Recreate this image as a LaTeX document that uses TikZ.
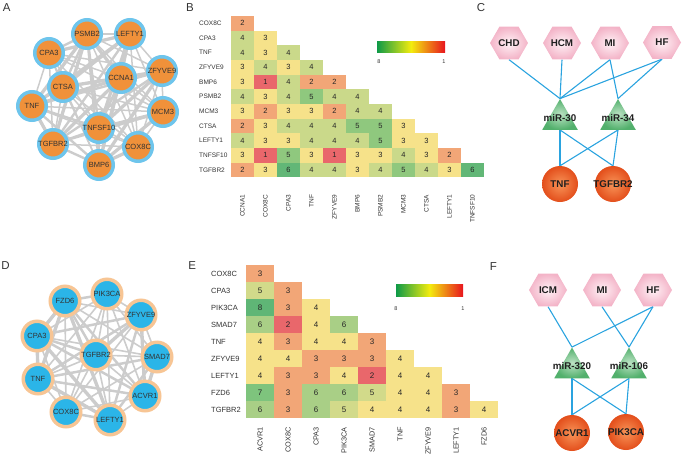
\documentclass[tikz,border=0pt]{standalone}
\usepackage{fontspec}
\setmainfont{Liberation Sans}
\usetikzlibrary{shapes.geometric}
\pgfdeclarelayer{bg}
\pgfsetlayers{bg,main}
\definecolor{txt}{HTML}{333333}
\definecolor{ringA}{HTML}{6EC5EC}
\definecolor{fillA}{HTML}{F0913A}
\definecolor{ringD}{HTML}{F7C594}
\definecolor{fillD}{HTML}{2BB5E8}
\definecolor{edgegray}{HTML}{CCCCCC}
\definecolor{hb1}{HTML}{E9676B}
\definecolor{hb2}{HTML}{F2A677}
\definecolor{hb3}{HTML}{F6E28A}
\definecolor{hb4}{HTML}{CAD98A}
\definecolor{hb5}{HTML}{8FC87E}
\definecolor{hb6}{HTML}{62B777}
\definecolor{he2}{HTML}{E9676B}
\definecolor{he3}{HTML}{F2A677}
\definecolor{he4}{HTML}{F6E28A}
\definecolor{he5}{HTML}{D2DA8A}
\definecolor{he6}{HTML}{A9CF86}
\definecolor{he7}{HTML}{7EC47D}
\definecolor{he8}{HTML}{5FB676}
\definecolor{cbg}{HTML}{0E9A48}
\definecolor{cby}{HTML}{F3EC0E}
\definecolor{cbr}{HTML}{E8141E}
\definecolor{pinkin}{HTML}{FFF2F6}
\definecolor{pinkout}{HTML}{F3B3C7}
\definecolor{grin}{HTML}{BDE3C5}
\definecolor{grout}{HTML}{52B06C}
\definecolor{orin}{HTML}{F89458}
\definecolor{orout}{HTML}{E34E1B}
\definecolor{bluel}{HTML}{2AA3DF}
\tikzset{
  panellbl/.style={font=\fontsize{11.5}{12}\selectfont, text=txt, inner sep=0pt},
  alabel/.style={font=\fontsize{7.5}{8}\selectfont, text=txt, inner sep=0pt},
  anode/.style={circle, draw=ringA, line width=3.5pt, fill=fillA, minimum size=28.5pt, inner sep=0pt, label={[alabel]center:#1}},
  dnode/.style={circle, draw=ringD, line width=3.5pt, fill=fillD, minimum size=29.5pt, inner sep=0pt, label={[alabel]center:#1}},
  cellB/.style={minimum width=23pt, minimum height=14.65pt, inner sep=0pt, font=\fontsize{7.5}{8}\selectfont, text=black!85},
  cellE/.style={minimum width=28pt, minimum height=17pt, inner sep=0pt, font=\fontsize{8}{9}\selectfont, text=black!85},
  rowB/.style={anchor=west, inner sep=0pt, font=\fontsize{6.5}{7}\selectfont, text=txt},
  colB/.style={rotate=90, anchor=east, inner sep=0pt, font=\fontsize{6.5}{7}\selectfont, text=txt},
  rowE/.style={anchor=west, inner sep=0pt, font=\fontsize{7.5}{8}\selectfont, text=txt},
  colE/.style={rotate=90, anchor=east, inner sep=0pt, font=\fontsize{7.3}{8}\selectfont, text=txt},
  cbl/.style={inner sep=0pt, font=\fontsize{5.5}{6}\selectfont, text=txt},
  cbar/.style={left color=cbg, right color=cbr, middle color=cby},
  blabel/.style={font=\bfseries\fontsize{9.8}{10}\selectfont, text=black!88, inner sep=0pt},
  hexa/.style={regular polygon, regular polygon sides=6, minimum size=38pt, inner sep=0pt, inner color=pinkin, outer color=pinkout, label={[blabel]center:#1}},
  tri/.style={regular polygon, regular polygon sides=3, minimum size=41pt, inner sep=0pt, inner color=grin, outer color=grout, label={[blabel, yshift=2pt]center:#1}},
  balln/.style={circle, minimum size=36pt, inner sep=0pt, inner color=orin, outer color=orout, label={[blabel]center:#1}},
  bedge/.style={draw=bluel, line width=1.1pt},
  gedge/.style={draw=edgegray}
}
\begin{document}
\begin{tikzpicture}[x=1pt,y=-1pt]
\useasboundingbox (0,0) rectangle (685,456);
% panel letters
\node[panellbl] (lA) at (6.7,7.5) {A};
\node[panellbl] (lB) at (190,7.5) {B};
\node[panellbl] (lC) at (481,7.5) {C};
\node[panellbl] (lD) at (5.5,265.5) {D};
\node[panellbl] (lE) at (192.3,265.5) {E};
\node[panellbl] (lF) at (493.3,266.3) {F};

% ---------- Panel A ----------
\node[anode=PSMB2] (a1) at (87,34) {};
\node[anode=LEFTY1] (a2) at (130,34) {};
\node[anode=CPA3] (a3) at (49,53) {};
\node[anode=CCNA1] (a4) at (121,78) {};
\node[anode=ZFYVE9] (a5) at (162,71) {};
\node[anode=CTSA] (a6) at (63,87) {};
\node[anode=TNF] (a7) at (32,106) {};
\node[anode=MCM3] (a8) at (163,112) {};
\node[anode=TNFSF10] (a9) at (99,128) {};
\node[anode=TGFBR2] (a10) at (53,144) {};
\node[anode=COX8C] (a11) at (138,147) {};
\node[anode=BMP6] (a12) at (99,165) {};
\begin{pgfonlayer}{bg}
\foreach \i in {1,...,11}{
  \pgfmathtruncatemacro\k{\i+1}
  \foreach \j in {\k,...,12}{
    \pgfmathsetmacro\w{1.5+0.9*mod(\i*\j+\i,3)}
    \draw[gedge, line width=\w pt] (a\i.center) -- (a\j.center);
  }
}
\end{pgfonlayer}

% ---------- Panel D ----------
\node[dnode=FZD6] (d1) at (65,301) {};
\node[dnode=PIK3CA] (d2) at (107,294) {};
\node[dnode=ZFYVE9] (d3) at (141,315) {};
\node[dnode=CPA3] (d4) at (37,336) {};
\node[dnode=TGFBR2] (d5) at (96,355) {};
\node[dnode=SMAD7] (d6) at (157,357) {};
\node[dnode=TNF] (d7) at (38,379) {};
\node[dnode=ACVR1] (d8) at (145,396) {};
\node[dnode=COX8C] (d9) at (66,412) {};
\node[dnode=LEFTY1] (d10) at (110,420) {};
\begin{pgfonlayer}{bg}
\foreach \i in {1,...,9}{
  \pgfmathtruncatemacro\k{\i+1}
  \foreach \j in {\k,...,10}{
    \pgfmathsetmacro\w{1.6+0.9*mod(\i*\j+\j,3)}
    \draw[gedge, line width=\w pt] (d\i.center) -- (d\j.center);
  }
}
\end{pgfonlayer}

% ---------- Panel B heatmap ----------
\foreach \row [count=\i from 0] in {{2},{4,3},{4,3,4},{3,4,3,4},{3,1,4,2,2},{4,3,4,5,4,4},{3,2,3,3,2,4,4},{2,3,4,4,4,5,5,3},{4,3,3,4,4,4,5,3,3},{3,1,5,3,1,3,3,4,3,2},{2,3,6,4,4,3,4,5,4,3,6}}{
  \foreach \v [count=\j from 0] in \row {
    \node[cellB, fill=hb\v] (b\i-\j) at ({231+23*(\j+0.5)},{16+14.65*(\i+0.5)}) {\v};
  }
}
\foreach \n [count=\i from 0] in {COX8C,CPA3,TNF,ZFYVE9,BMP6,PSMB2,MCM3,CTSA,LEFTY1,TNFSF10,TGFBR2}{
  \node[rowB] (br\i) at (199,{16+14.65*(\i+0.5)}) {\n};
}
\foreach \n [count=\j from 0] in {CCNA1,COX8C,CPA3,TNF,ZFYVE9,BMP6,PSMB2,MCM3,CTSA,LEFTY1,TNFSF10}{
  \node[colB] (bc\j) at ({231+23*(\j+0.5)},194.5) {\n};
}
\shade[cbar] (377,41) rectangle (445,52);
\node[cbl] (b8) at (379,62) {8};
\node[cbl] (b1) at (444,62) {1};

% ---------- Panel E heatmap ----------
\foreach \row [count=\i from 0] in {{3},{5,3},{8,3,4},{6,2,4,6},{4,3,4,4,3},{4,4,3,3,3,4},{4,3,3,4,2,4,4},{7,3,6,6,5,4,4,3},{6,3,6,5,4,4,4,3,4}}{
  \foreach \v [count=\j from 0] in \row {
    \node[cellE, fill=he\v] (e\i-\j) at ({246+28*(\j+0.5)},{265+17*(\i+0.5)}) {\v};
  }
}
\foreach \n [count=\i from 0] in {COX8C,CPA3,PIK3CA,SMAD7,TNF,ZFYVE9,LEFTY1,FZD6,TGFBR2}{
  \node[rowE] (er\i) at (211,{265+17*(\i+0.5)}) {\n};
}
\foreach \n [count=\j from 0] in {ACVR1,COX8C,CPA3,PIK3CA,SMAD7,TNF,ZFYVE9,LEFTY1,FZD6}{
  \node[colE] (ec\j) at ({246+28*(\j+0.5)},427) {\n};
}
\shade[cbar] (396,284) rectangle (463,296);
\node[cbl] (e8) at (396,309) {8};
\node[cbl] (e1) at (463,309) {1};

% ---------- Panel C ----------
\node[hexa=CHD] (chd) at (509,43) {};
\node[hexa=HCM] (hcm) at (562,43) {};
\node[hexa=MI] (cmi) at (610,43) {};
\node[hexa=HF] (chf) at (662,42.5) {};
\node[tri=miR-30] (m30) at (560,119.5) {};
\node[tri=miR-34] (m34) at (618,119.5) {};
\node[balln=TNF] (ctnf) at (560,184) {};
\node[balln=TGFBR2] (ctgf) at (613,184) {};
\begin{pgfonlayer}{bg}
\draw[bedge] (chd.south) -- (m30.north);
\draw[bedge] (hcm.south) -- (m30.north);
\draw[bedge] (cmi.south) -- (m30.north);
\draw[bedge] (cmi.south) -- (m34.north);
\draw[bedge] (chf.south) -- (m30.north);
\draw[bedge] (chf.south) -- (m34.north);
\draw[bedge] (m30.south) -- (ctnf.north);
\draw[bedge] (m30.south) -- (ctgf.north);
\draw[bedge] (m34.south) -- (ctnf.north);
\draw[bedge] (m34.south) -- (ctgf.north);
\end{pgfonlayer}

% ---------- Panel F ----------
\node[hexa=ICM] (icm) at (548,290) {};
\node[hexa=MI] (fmi) at (602,290) {};
\node[hexa=HF] (fhf) at (653,290) {};
\node[tri=miR-320] (m320) at (572,368) {};
\node[tri=miR-106] (m106) at (629,368) {};
\node[balln=ACVR1] (facv) at (572,433) {};
\node[balln=PIK3CA] (fpik) at (626,432) {};
\begin{pgfonlayer}{bg}
\draw[bedge] (icm.south) -- (m320.north);
\draw[bedge] (fmi.south) -- (m106.north);
\draw[bedge] (fhf.south) -- (m320.north);
\draw[bedge] (fhf.south) -- (m106.north);
\draw[bedge] (m320.south) -- (facv.north);
\draw[bedge] (m320.south) -- (fpik.north);
\draw[bedge] (m106.south) -- (facv.north);
\draw[bedge] (m106.south) -- (fpik.north);
\end{pgfonlayer}
\end{tikzpicture}
\end{document}
